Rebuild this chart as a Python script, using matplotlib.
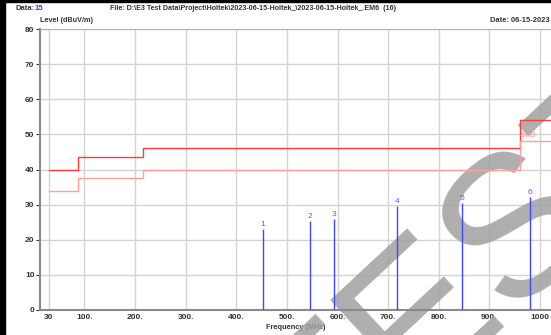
# EMI scan plot: limit lines and peak markers
import numpy as np
import matplotlib
matplotlib.use('Agg')
import matplotlib.pyplot as plt

plt.rcParams['font.family'] = ['Liberation Sans', 'DejaVu Sans']

# limit line (steps), MHz / dBuV/m
limit_f = [30, 88, 88, 216, 216, 960, 960, 1025]
limit_lvl = [40, 40, 43.5, 43.5, 46, 46, 54, 54]
margin_db = 6

# peaks
peak_no = ['1', '2', '3', '4', '5', '6']
peak_f = [453, 546, 593, 717, 845, 981]
peak_lvl = [23.0, 25.2, 26.0, 29.7, 30.5, 32.2]

xticks = [30, 100, 200, 300, 400, 500, 600, 700, 800, 900, 1000]
xticklabels = ['30', '100.', '200.', '300.', '400.', '500.', '600.', '700.', '800.', '900.', '1000']
yticks = [0, 10, 20, 30, 40, 50, 60, 70, 80]

fig = plt.figure(figsize=(5.51, 3.35), dpi=100)
ax = fig.add_axes([40/551, 1 - 310/335, 1 - 40/551, (310 - 29)/335])

ax.plot(limit_f, limit_lvl, color='#ff3b3b', lw=1.0, zorder=3)
ax.plot(limit_f, np.array(limit_lvl) - margin_db, color='#ffa0a0', lw=1.0, zorder=3)
ax.text(958, 48.6, '-6dB', color='#ff9090', fontsize=6, ha='left', va='bottom', zorder=3)

for n, f, l in zip(peak_no, peak_f, peak_lvl):
    ax.vlines(f, 0, l, color='#4646ff', lw=1.0, zorder=3)
    ax.text(f, l + 0.3, n, color='#5c5cff', fontsize=6, ha='center', va='bottom', zorder=3)

ax.set_xlim(12.2, 1021.7)
ax.set_ylim(0, 80)
ax.set_xticks(xticks)
ax.set_xticklabels(xticklabels)
ax.set_yticks(yticks)
ax.tick_params(axis='both', labelsize=6, colors='#333333', length=3, width=0.8, pad=1)
ax.tick_params(axis='x', length=0, pad=3)
for lab in ax.get_xticklabels() + ax.get_yticklabels():
    lab.set_fontweight('bold')
ax.grid(True, color='#d4d4d4', lw=1.0)
ax.set_axisbelow(True)
for s in ['left', 'bottom']:
    ax.spines[s].set_color('#8a8a8a')
    ax.spines[s].set_linewidth(1.5)
ax.spines['top'].set_color('#b0b0b0')
ax.spines['right'].set_visible(False)

ax.set_xlabel('Frequency (MHz)', fontsize=5.3, fontweight='bold', color='#333333', labelpad=2)
fig.text(40/551, 1 - 21/335, 'Level (dBuV/m)', fontsize=5.2, fontweight='bold', color='#333333', va='center')

# header
fig.text(15/551, 1 - 8/335, 'Data:', fontsize=5.5, fontweight='bold', color='#333333', va='center')
fig.text(35/551, 1 - 8/335, '15', fontsize=5.5, fontweight='bold', color='#3a3aff', va='center')
fig.text(110/551, 1 - 8/335, 'File: D:\\E3 Test Data\\Project\\Holtek\\2023-06-15-Holtek_\\2023-06-15-Holtek_.EM6  (16)',
         fontsize=5.1, fontweight='bold', color='#333333', ha='left', va='center')
fig.text(550/551, 1 - 21/335, 'Date: 06-15-2023', fontsize=5.4, fontweight='bold', color='#333333', ha='right', va='center')

# watermark, above the grid but under the traces
ax.text(475/551, 1 - 279/335, 'TEST', transform=fig.transFigure, fontsize=145,
        color='#a0a0a0', alpha=0.85, rotation=43, ha='center', va='center',
        zorder=2, clip_on=False)

# black frame on left / top
fig.patches.append(plt.Rectangle((0, 0), 5/551, 1, transform=fig.transFigure, color='black', zorder=20))
fig.patches.append(plt.Rectangle((0, 1 - 2/335), 1, 2/335, transform=fig.transFigure, color='black', zorder=20))

fig.savefig('out.png', dpi=100)
